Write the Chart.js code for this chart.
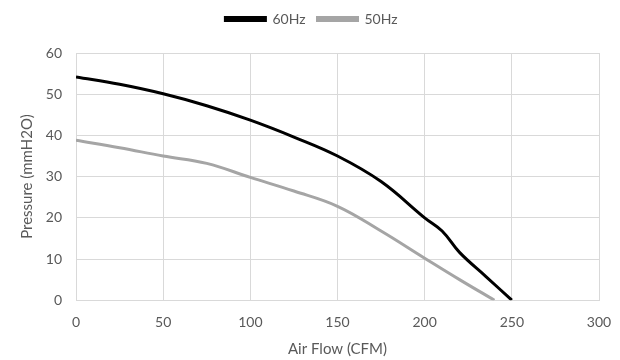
<!DOCTYPE html>
<html>
<head>
<meta charset="utf-8">
<script src="https://cdn.jsdelivr.net/npm/chart.js@4/dist/chart.umd.min.js"></script>
<style>
html,body{margin:0;padding:0;background:#fff;}
#wrap{width:620px;height:360px;}
</style>
</head>
<body>
<div id="wrap"><canvas id="c" width="620" height="360"></canvas></div>
<script>
const flow60 = [0, 25, 50, 75, 100, 125, 150, 175, 200, 210, 220, 235, 250];
const press60 = [54.2, 52.4, 50.1, 47.2, 43.7, 39.6, 35.0, 28.8, 20.0, 16.8, 11.6, 5.8, 0];
const flow50 = [0, 25, 50, 75, 100, 125, 150, 175, 200, 220, 240];
const press50 = [38.8, 37.0, 35.0, 33.2, 29.8, 26.5, 22.8, 16.8, 10.2, 5.0, 0];
const seriesNames = ["60Hz", "50Hz"];
const xTitle = "Air Flow (CFM)";
const yTitle = "Pressure (mmH2O)";

const toPts = (xs, ys) => xs.map((x, i) => ({x: x, y: ys[i]}));
const FONT = "Lato, 'Open Sans', sans-serif";
const TXT = "#595959";
const GRID = "#D9D9D9";

const legendGap = {
  id: 'legendGap',
  beforeInit(chart) {
    const lg = chart.legend;
    const orig = lg.fit;
    lg.fit = function () { orig.call(this); this.height += 17; };
  }
};

new Chart(document.getElementById('c'), {
  type: 'line',
  plugins: [legendGap],
  data: {
    datasets: [
      {label: seriesNames[0], data: toPts(flow60, press60), borderColor: '#000000', backgroundColor: '#000000', borderWidth: 3, pointRadius: 0, tension: 0.4},
      {label: seriesNames[1], data: toPts(flow50, press50), borderColor: '#A5A5A5', backgroundColor: '#A5A5A5', borderWidth: 3, pointRadius: 0, tension: 0.4}
    ]
  },
  options: {
    responsive: false,
    animation: false,
    layout: {padding: {left: 8, right: 5, top: 0, bottom: 2}},
    plugins: {
      legend: {
        position: 'top',
        labels: {boxWidth: 40, boxHeight: 3, color: TXT, font: {family: FONT, size: 14}, padding: 12}
      },
      tooltip: {enabled: false}
    },
    scales: {
      x: {
        type: 'linear', min: 0, max: 300,
        ticks: {stepSize: 50, color: TXT, font: {family: FONT, size: 14}, padding: 14},
        grid: {color: GRID, drawTicks: false},
        border: {color: GRID},
        title: {display: true, text: xTitle, color: TXT, font: {family: FONT, size: 15}, padding: {top: -5, bottom: 0}},
        afterFit: (s) => { s.paddingRight = 21; }
      },
      y: {
        min: 0, max: 60,
        ticks: {stepSize: 10, color: TXT, font: {family: FONT, size: 14}, padding: 14},
        grid: {color: GRID, drawTicks: false},
        border: {display: false},
        title: {display: true, text: yTitle, color: TXT, font: {family: FONT, size: 15}, padding: {top: 10, bottom: 4}},
        afterFit: (s) => { s.width = 68; }
      }
    }
  }
});
</script>
</body>
</html>
